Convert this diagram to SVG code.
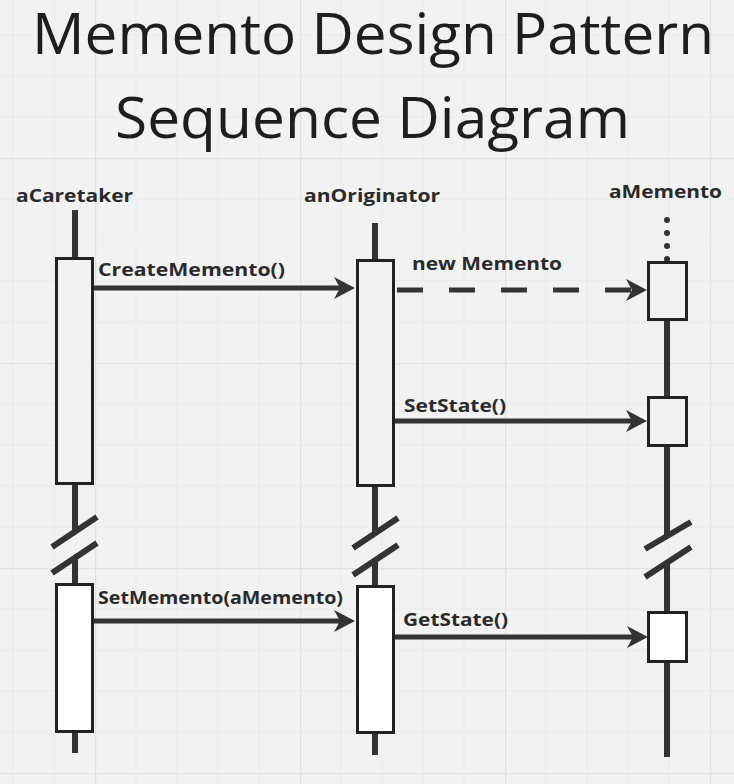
<svg xmlns="http://www.w3.org/2000/svg" width="734" height="784" viewBox="0 0 734 784">
<defs>
<pattern id="grid" patternUnits="userSpaceOnUse" x="95" y="158" width="205" height="205">
<rect width="205" height="205" fill="#f2f2f2"/>
<path d="M41 0V205M82 0V205M123 0V205M164 0V205M0 41H205M0 82H205M0 123H205M0 164H205" stroke="#eaeaea" stroke-width="1" fill="none"/>
<path d="M0.5 0V205M0 0.5H205" stroke="#e2e2e2" stroke-width="1.5" fill="none"/>
</pattern>
<marker id="ah" markerUnits="userSpaceOnUse" markerWidth="22" markerHeight="23" refX="6" refY="11" orient="auto" overflow="visible">
<path d="M0 0L21 11L0 22L6 11Z" fill="#333"/>
</marker>
<style>
.title{font-family:"Open Sans","Liberation Sans",sans-serif;font-size:57px;fill:#1e1e1e}
.lbl{font-family:"Open Sans","Liberation Sans",sans-serif;font-size:18px;font-weight:bold;fill:#2a2a2a}
.life{stroke:#333;stroke-width:6;fill:none}
.brk{stroke:#333;stroke-width:6;fill:none}
.box{stroke:#222;stroke-width:3;fill:#f2f2f2}
.boxw{stroke:#222;stroke-width:3;fill:#ffffff}
.msg{stroke:#333;stroke-width:5;fill:none;marker-end:url(#ah)}
.dash{stroke-dasharray:26 26}
</style>
</defs>
<rect width="734" height="784" fill="url(#grid)"/>
<g id="title">
<text class="title" x="32" y="54" textLength="682" lengthAdjust="spacingAndGlyphs">Memento Design Pattern</text>
<text class="title" x="115" y="138" textLength="515" lengthAdjust="spacingAndGlyphs">Sequence Diagram</text>
</g>
<g id="aCaretaker">
<text class="lbl" x="16" y="202" textLength="117" lengthAdjust="spacingAndGlyphs">aCaretaker</text>
<path class="life" d="M75 210V257M75 484V532M75 558V583M75 732V753"/>
<path class="brk" d="M52 547L97 517M52 573L97 543"/>
<rect class="box" x="56.5" y="258.5" width="36" height="225"/>
<rect class="boxw" x="56.5" y="584.5" width="36" height="147"/>
</g>
<g id="anOriginator">
<text class="lbl" x="304" y="202" textLength="136" lengthAdjust="spacingAndGlyphs">anOriginator</text>
<path class="life" d="M375 223V259M375 486V533M375 560V585M375 733V755"/>
<path class="brk" d="M353 548L398 518M353 575L398 545"/>
<rect class="box" x="357.5" y="260.5" width="36" height="225"/>
<rect class="boxw" x="357.5" y="586.5" width="36" height="146"/>
</g>
<g id="aMemento">
<text class="lbl" x="609" y="198" textLength="113" lengthAdjust="spacingAndGlyphs">aMemento</text>
<g fill="#333"><circle cx="667" cy="220" r="3"/><circle cx="667" cy="233" r="3"/><circle cx="667" cy="246" r="3"/><circle cx="667" cy="259" r="3"/></g>
<path class="life" d="M667 320V396M667 447V535M667 562V611M667 663V757"/>
<path class="brk" d="M645 549L691 522M645 577L691 547"/>
<rect class="box" x="648.5" y="262.5" width="38" height="57"/>
<rect class="box" x="648.5" y="397.5" width="38" height="48"/>
<rect class="boxw" x="648.5" y="612.5" width="38" height="49"/>
</g>
<g id="connectors">
<line class="msg" x1="94" y1="288" x2="340" y2="288"/>
<line class="msg dash" x1="397" y1="290" x2="632" y2="290"/>
<line class="msg" x1="395" y1="421" x2="632" y2="421"/>
<line class="msg" x1="94" y1="621" x2="340" y2="621"/>
<line class="msg" x1="395" y1="637" x2="633" y2="637"/>
<text class="lbl" x="98" y="276" textLength="187" lengthAdjust="spacingAndGlyphs">CreateMemento()</text>
<text class="lbl" x="412" y="270" textLength="150" lengthAdjust="spacingAndGlyphs">new Memento</text>
<text class="lbl" x="404" y="412" textLength="102" lengthAdjust="spacingAndGlyphs">SetState()</text>
<text class="lbl" x="98" y="604" textLength="245" lengthAdjust="spacingAndGlyphs">SetMemento(aMemento)</text>
<text class="lbl" x="403" y="626" textLength="105" lengthAdjust="spacingAndGlyphs">GetState()</text>
</g>
</svg>
